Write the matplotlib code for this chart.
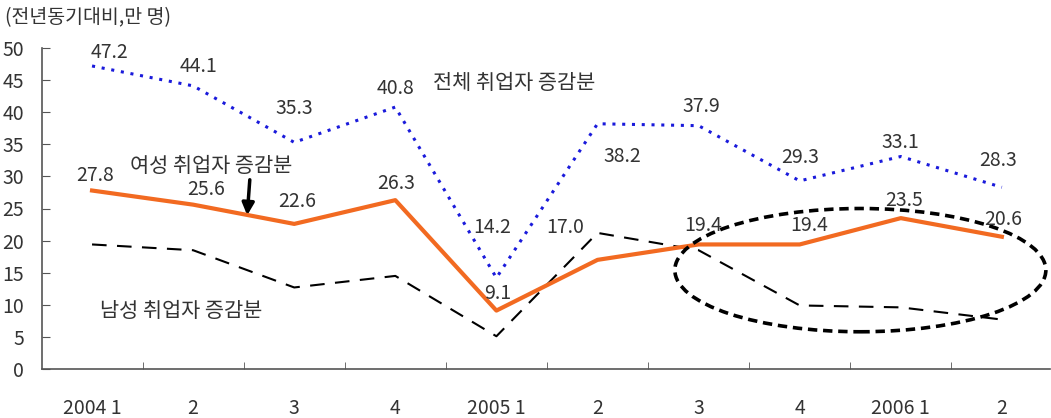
import matplotlib
matplotlib.use("Agg")
import matplotlib.pyplot as plt
from matplotlib.patches import Ellipse
import numpy as np

plt.rcParams['font.family'] = ['Noto Sans CJK KR', 'DejaVu Sans']

categories = ["2004 1", "2", "3", "4", "2005 1", "2", "3", "4", "2006 1", "2"]
total = [47.2, 44.1, 35.3, 40.8, 14.2, 38.2, 37.9, 29.3, 33.1, 28.3]
women = [27.8, 25.6, 22.6, 26.3, 9.1, 17.0, 19.4, 19.4, 23.5, 20.6]
men = [19.4, 18.5, 12.7, 14.5, 5.1, 21.2, 18.5, 9.9, 9.6, 7.7]

# label offsets in pixels (dx, dy)
total_off = [(17, 13), (5, 19), (0, 34), (0, 19), (-4, 50), (25, -33), (3, 19), (0, 23), (0, 14), (-4, 27)]
women_off = [(3, 15), (13, 15), (3, 22), (1, 17), (1, 17), (-32, 32), (5, 19), (9, 19), (3, 18), (1, 17)]

W, H = 1051, 418
fig = plt.figure(figsize=(W / 100, H / 100), dpi=100)
ax = fig.add_axes([42 / W, 1 - 369 / H, (1050 - 42) / W, (369 - 48) / H])

x = np.arange(len(categories))
txt = '#333333'

ax.plot(x, men, color='black', lw=1.5, dashes=(7, 5), zorder=2)
ax.plot(x, total, color='#1a1adb', lw=2.2, dashes=(1, 2.2), zorder=3)
ax.plot(x, women, color='#f26a21', lw=3, zorder=4)

px = 0.72
for xi, v, (dx, dy) in zip(x, total, total_off):
    ax.annotate(f"{v:.1f}", (xi, v), xytext=(dx * px, dy * px), textcoords='offset points',
                ha='center', va='center', fontsize=14, color=txt, zorder=6)
for xi, v, (dx, dy) in zip(x, women, women_off):
    ax.annotate(f"{v:.1f}", (xi, v), xytext=(dx * px, dy * px), textcoords='offset points',
                ha='center', va='center', fontsize=14, color=txt, zorder=6)

ell = Ellipse((7.6, 15.4), 3.67, 19.2, fill=False, edgecolor='black', lw=2.6,
              linestyle=(0, (2.6, 1.6)), zorder=5)
ax.add_patch(ell)

ax.set_xlim(-0.495, 9.476)
ax.set_ylim(0, 50)
ax.set_yticks(np.arange(0, 51, 5))
ax.set_xticks(x)
ax.set_xticklabels(categories)
ax.set_xticks(x[:-1] + 0.5, minor=True)
ax.tick_params(axis='x', which='major', length=0, pad=21, labelsize=14, labelcolor=txt)
ax.tick_params(axis='x', which='minor', direction='in', length=5, color='#555555')
ax.tick_params(axis='y', direction='in', length=6, labelsize=14, labelcolor=txt, pad=13, color='#555555')
for lbl in ax.get_yticklabels():
    lbl.set_horizontalalignment('right')
for s in ['top', 'right']:
    ax.spines[s].set_visible(False)
for s in ['left', 'bottom']:
    ax.spines[s].set_color('#555555')
    ax.spines[s].set_linewidth(1.2)

fig.text(5 / W, 1 - 18 / H, "(전년동기대비,만 명)", fontsize=14, color=txt, va='center', ha='left')
fig.text(433 / W, 1 - 83 / H, "전체 취업자 증감분", fontsize=15, color=txt, va='center', ha='left')
fig.text(130 / W, 1 - 166 / H, "여성 취업자 증감분", fontsize=15, color=txt, va='center', ha='left')
fig.text(100 / W, 1 - 311 / H, "남성 취업자 증감분", fontsize=15, color=txt, va='center', ha='left')

ax.annotate("", xy=(247 / W, 1 - 218 / H), xytext=(250 / W, 1 - 177 / H),
            xycoords='figure fraction', textcoords='figure fraction',
            arrowprops=dict(arrowstyle='-|>', color='black', lw=2.5, mutation_scale=18))

fig.savefig("out.png", dpi=100)
